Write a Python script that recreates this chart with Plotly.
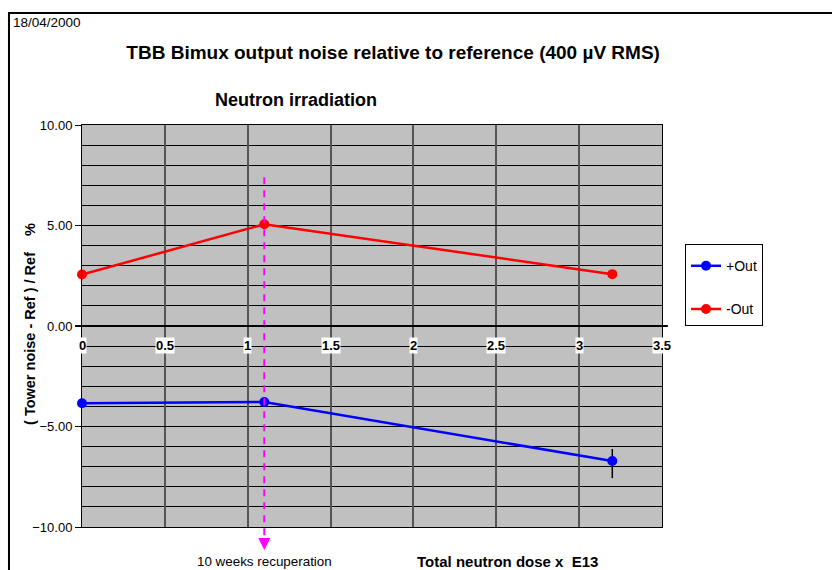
import plotly.graph_objects as go

# ---- data ----
dose = [0.0, 1.1, 3.2]
plus_out = [-3.84, -3.78, -6.72]
minus_out = [2.56, 5.06, 2.58]
plus_err_up = [0, 0, 0.6]
plus_err_down = [0, 0, 0.85]
x_ticks = [0, 0.5, 1, 1.5, 2, 2.5, 3, 3.5]
x_tick_labels = ["0", "0.5", "1", "1.5", "2", "2.5", "3", "3.5"]
y_ticks = [-10, -5, 0, 5, 10]
recup_dose = 1.1
recup_top = 7.4

X_RANGE = [0, 3.5]
Y_RANGE = [-10, 10]
FONT = "Arial, Liberation Sans, sans-serif"


def ypaper(v):
    return (v - Y_RANGE[0]) / (Y_RANGE[1] - Y_RANGE[0])


fig = go.Figure()
fig.add_trace(go.Scatter(
    x=dose, y=plus_out, name="+Out", mode="lines+markers",
    line=dict(color="#0000ff", width=2.5),
    marker=dict(color="#0000ff", size=10),
    error_y=dict(type="data", array=plus_err_up, arrayminus=plus_err_down,
                 color="black", thickness=1.5, width=0, visible=True),
    legendgroup="a", cliponaxis=False))
fig.add_trace(go.Scatter(
    x=dose, y=minus_out, name="-Out", mode="lines+markers",
    line=dict(color="#ff0000", width=2.5),
    marker=dict(color="#ff0000", size=10),
    legendgroup="b", cliponaxis=False))

annotations = []
# x tick labels on the zero axis, with white background
for xv, lab in zip(x_ticks, x_tick_labels):
    annotations.append(dict(x=xv, y=0, xref="x", yref="y", text="<b>%s</b>" % lab,
                            xanchor="center", yanchor="middle",
                            showarrow=False, yshift=-19, bgcolor="white", borderpad=0,
                            font=dict(family=FONT, size=13, color="black")))
annotations += [
    dict(x=0.369, y=1.062, xref="paper", yref="paper", text="<b>Neutron irradiation</b>",
         xanchor="center", yanchor="middle",
         showarrow=False, font=dict(family=FONT, size=18, color="black")),
    dict(x=-0.1224, y=1.256, xref="paper", yref="paper", text="18/04/2000",
         xanchor="left", yanchor="middle",
         showarrow=False, font=dict(family=FONT, size=13.5, color="black")),
    dict(x=0.5741, y=-0.087, xref="paper", yref="paper", xanchor="left", yanchor="middle",
         text="<b>Total neutron dose x&nbsp; E13</b>",
         showarrow=False, font=dict(family=FONT, size=15, color="black")),
    dict(x=recup_dose, y=-0.087, xref="x", yref="paper", text="10 weeks recuperation",
         xanchor="center", yanchor="middle",
         showarrow=False, font=dict(family=FONT, size=13.4, color="black")),
    dict(x=-0.0897, y=0.505, xref="paper", yref="paper", textangle=-90,
         xanchor="center", yanchor="middle",
         text="<b>( Tower noise - Ref ) / Ref&nbsp;&nbsp;&nbsp; %</b>",
         showarrow=False, font=dict(family=FONT, size=14.5, color="black")),
    # arrow head of recuperation marker
    dict(x=recup_dose, y=-0.057, xref="x", yref="paper", text="", showarrow=True,
         ax=0, ay=-8, arrowhead=2, arrowsize=1.2, arrowwidth=2, arrowcolor="#ff00ff"),
]

shapes = [
    dict(type="line", xref="x", yref="paper", x0=recup_dose, x1=recup_dose,
         y0=ypaper(recup_top), y1=-0.04,
         line=dict(color="#ff00ff", width=2, dash="7px,6px")),
    # outer frame
    dict(type="rect", xref="paper", yref="paper", x0=-0.1259, x1=1.30, y0=-0.12, y1=1.2786,
         line=dict(color="black", width=2), fillcolor="rgba(0,0,0,0)", layer="below"),
    # zero axis line (extends slightly past plot)
    dict(type="line", xref="paper", yref="y", x0=-0.012, x1=1.01, y0=0, y1=0,
         line=dict(color="black", width=2)),
]

fig.update_layout(
    width=832, height=570,
    margin=dict(l=82, r=170, t=125, b=43),
    paper_bgcolor="white", plot_bgcolor="#c0c0c0",
    font=dict(family=FONT, size=13, color="black"),
    title=dict(text="<b>TBB Bimux output noise relative to reference (400 µV RMS)</b>",
               x=0.4725, y=0.909, xanchor="center", yanchor="middle",
               font=dict(family=FONT, size=19, color="black")),
    showlegend=True,
    legend=dict(x=1.0397, y=0.704, xanchor="left", yanchor="top",
                bgcolor="white", bordercolor="black", borderwidth=1,
                font=dict(family=FONT, size=14, color="black"),
                title=dict(text=" ", font=dict(size=4)),
                tracegroupgap=22, itemwidth=30),
    xaxis=dict(range=X_RANGE, tickvals=x_ticks, showticklabels=False, ticks="",
               showgrid=True, gridcolor="#555555", gridwidth=1.5, zeroline=False,
               showline=True, linecolor="black", linewidth=1, mirror=True),
    yaxis=dict(range=Y_RANGE, tickvals=y_ticks, tickformat=".2f", ticks="outside",
               ticklen=6, tickcolor="black", tickwidth=1,
               showgrid=True, gridcolor="black", gridwidth=1,
               minor=dict(dtick=1, showgrid=True, gridcolor="black", gridwidth=1),
               zeroline=False, showline=True, linecolor="black", linewidth=1, mirror=True,
               tickfont=dict(family=FONT, size=13, color="black")),
    annotations=annotations,
    shapes=shapes,
)

fig.write_html("out.html")
